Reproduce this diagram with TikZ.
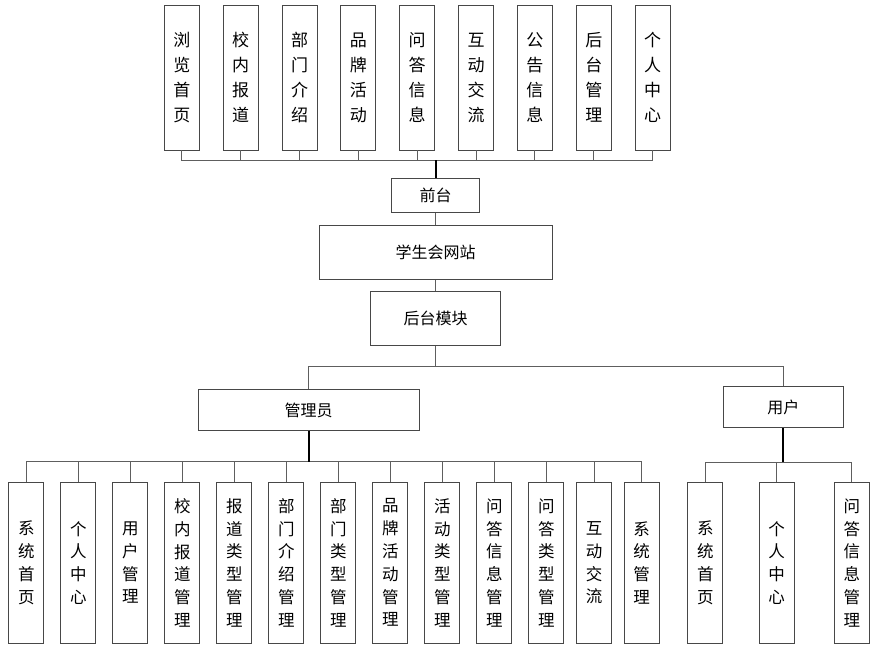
\documentclass[tikz,border=0pt]{standalone}
\usepackage{fontspec}
\setmainfont{Noto Sans CJK SC}
\usetikzlibrary{positioning}
\definecolor{edge}{HTML}{474747}
\definecolor{wire}{HTML}{5E5E5E}
\tikzset{
  tallbox/.style={draw=edge,line width=0.9pt,fill=white,align=center,
    inner sep=0pt,minimum width=35pt,minimum height=145pt,
    font=\fontsize{17}{25}\selectfont},
  lowbox/.style={tallbox,minimum height=161pt,
    font=\fontsize{16.5}{22.8}\selectfont},
  wide/.style={draw=edge,line width=0.9pt,fill=white,align=center,
    inner sep=0pt,font=\fontsize{16}{18}\selectfont},
  wire/.style={draw=wire,line width=1pt},
  trunk/.style={draw=black,line width=2pt}
}

\begin{document}
\begin{tikzpicture}[x=1pt,y=-1pt,node distance=16.1pt]
  \useasboundingbox[fill=white] (0,0) rectangle (880,653);
  % front-end pages
  \node[tallbox] (f1) at (181.8,77.5) {浏\\览\\首\\页};
  \node[tallbox,right=22.95pt of f1] (f2) {校\\内\\报\\道};
  \node[tallbox,right=22.95pt of f2] (f3) {部\\门\\介\\绍};
  \node[tallbox,right=22.95pt of f3] (f4) {品\\牌\\活\\动};
  \node[tallbox,right=22.95pt of f4] (f5) {问\\答\\信\\息};
  \node[tallbox,right=22.95pt of f5] (f6) {互\\动\\交\\流};
  \node[tallbox,right=22.95pt of f6] (f7) {公\\告\\信\\息};
  \node[tallbox,right=22.95pt of f7] (f8) {后\\台\\管\\理};
  \node[tallbox,right=22.95pt of f8] (f9) {个\\人\\中\\心};
  % middle column
  \node[wide,minimum width=233pt,minimum height=53.6pt] (site) at (435.7,252.5) {学生会网站};
  \node[wide,minimum width=87.6pt,minimum height=34.4pt,above=12pt of site] (front) {前台};
  \node[wide,minimum width=129.7pt,minimum height=54pt,below=11.5pt of site] (back) {后台模块};
  \node[wide,minimum width=220.7pt,minimum height=41pt] (admin) at (308.7,410) {管理员};
  \node[wide,minimum width=120pt,minimum height=41pt] (user) at (783.3,407.2) {用户};
  % admin functions
  \node[lowbox] (a1) at (26.3,562.8) {系\\统\\首\\页};
  \node[lowbox,right=of a1] (a2) {个\\人\\中\\心};
  \node[lowbox,right=of a2] (a3) {用\\户\\管\\理};
  \node[lowbox,right=of a3] (a4) {校\\内\\报\\道\\管\\理};
  \node[lowbox,right=of a4] (a5) {报\\道\\类\\型\\管\\理};
  \node[lowbox,right=of a5] (a6) {部\\门\\介\\绍\\管\\理};
  \node[lowbox,right=of a6] (a7) {部\\门\\类\\型\\管\\理};
  \node[lowbox,right=of a7] (a8) {品\\牌\\活\\动\\管\\理};
  \node[lowbox,right=of a8] (a9) {活\\动\\类\\型\\管\\理};
  \node[lowbox,right=of a9] (a10) {问\\答\\信\\息\\管\\理};
  \node[lowbox,right=of a10] (a11) {问\\答\\类\\型\\管\\理};
  \node[lowbox,right=11.8pt of a11] (a12) {互\\动\\交\\流};
  \node[lowbox,right=11.8pt of a12] (a13) {系\\统\\管\\理};
  % user functions
  \node[lowbox] (u1) at (705.3,562.8) {系\\统\\首\\页};
  \node[lowbox,right=35.5pt of u1] (u2) {个\\人\\中\\心};
  \node[lowbox,right=39.2pt of u2] (u3) {问\\答\\信\\息\\管\\理};
  % bus points
  \coordinate (topbus) at ([yshift=17.6pt]front.north);
  \coordinate (backbus) at ([yshift=-20pt]back.south);
  \coordinate (adminbus) at ([yshift=-31pt]admin.south);
  \coordinate (userbus) at ([yshift=-34pt]user.south);
  % connectors
  \foreach \n in {f1,f2,f3,f4,f5,f6,f7,f8,f9}
    \draw[wire] (\n.south) |- (topbus);
  \draw[trunk] (front.north) -- (topbus);
  \draw[wire] (front) -- (site);
  \draw[wire] (site) -- (back);
  \draw[wire] (back.south) -- (backbus);
  \draw[wire] (admin.north) |- (backbus);
  \draw[wire] (user.north) |- (backbus);
  \foreach \n in {a1,a2,a3,a4,a5,a6,a7,a8,a9,a10,a11,a12,a13}
    \draw[wire] (\n.north) |- (adminbus);
  \draw[trunk] (admin.south) -- (adminbus);
  \foreach \n in {u1,u2,u3}
    \draw[wire] (\n.north) |- (userbus);
  \draw[trunk] (user.south) -- (userbus);
\end{tikzpicture}
\end{document}
